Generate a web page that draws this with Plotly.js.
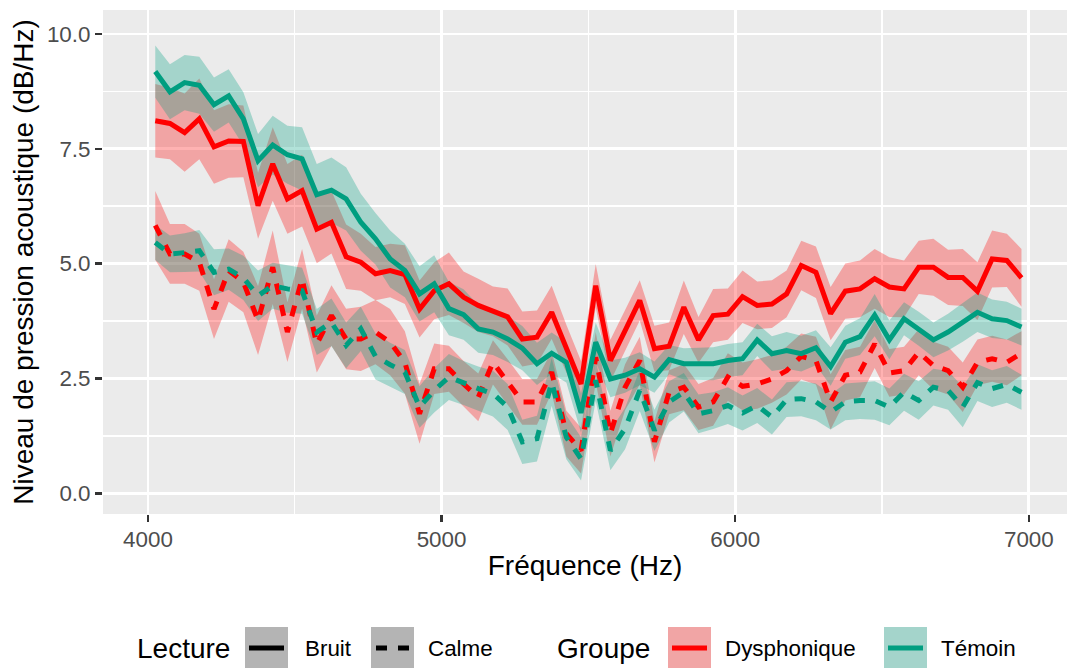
<!DOCTYPE html>
<html>
<head>
<meta charset="utf-8">
<script src="https://cdn.plot.ly/plotly-3.0.1.min.js"></script>
<style>html,body{margin:0;padding:0;background:#fff;}#chart{width:1067px;height:668px;}</style>
</head>
<body>
<div id="chart"></div>
<script>
// ---- data ----
const freq = [4025,4075,4125,4175,4225,4275,4325,4375,4425,4475,
              4525,4575,4625,4675,4725,4775,4825,4875,4925,4975,
              5025,5075,5125,5175,5225,5275,5325,5375,5425,5475,
              5525,5575,5625,5675,5725,5775,5825,5875,5925,5975,
              6025,6075,6125,6175,6225,6275,6325,6375,6425,6475,
              6525,6575,6625,6675,6725,6775,6825,6875,6925,6975];

// Dysphonique / Bruit (mean and half-width of ribbon)
const dysBruit = [8.11,8.05,7.85,8.15,7.54,7.67,7.66,6.26,7.17,6.41,
                  6.59,5.75,5.90,5.15,5.03,4.78,4.85,4.76,4.01,4.41,
                  4.56,4.27,4.09,3.96,3.84,3.36,3.40,3.94,3.15,2.38,
                  4.52,2.89,3.54,4.20,3.15,3.20,4.05,3.34,3.87,3.90,
                  4.28,4.09,4.12,4.34,4.96,4.81,3.91,4.40,4.45,4.67,
                  4.49,4.45,4.92,4.92,4.70,4.70,4.40,5.10,5.07,4.69];
const dysBruitSe = [0.80,0.78,0.85,0.88,0.80,0.80,0.78,0.72,0.80,0.76,
                    0.78,0.74,0.68,0.70,0.62,0.58,0.58,0.64,0.62,0.62,
                    0.68,0.56,0.58,0.54,0.62,0.60,0.58,0.58,0.52,0.50,
                    0.47,0.45,0.45,0.44,0.50,0.52,0.58,0.50,0.58,0.56,
                    0.57,0.52,0.52,0.51,0.54,0.56,0.58,0.60,0.62,0.65,
                    0.65,0.62,0.58,0.62,0.60,0.62,0.63,0.62,0.58,0.63];

// Dysphonique / Calme
const dysCalme = [5.83,5.21,5.21,5.03,4.01,4.85,4.60,3.76,4.92,3.51,
                  4.67,3.25,3.87,3.36,3.36,3.51,3.29,2.85,1.73,2.71,
                  2.71,2.38,2.09,2.85,2.42,1.99,1.99,2.64,1.30,0.93,
                  2.96,1.30,2.31,2.89,1.12,2.20,2.31,1.88,1.99,2.53,
                  2.33,2.38,2.49,2.67,2.98,2.89,1.99,2.57,2.64,3.25,
                  2.62,2.67,3.07,2.78,2.67,2.31,2.85,2.93,2.85,3.05];
const dysCalmeSe = [0.75,0.65,0.65,0.62,0.65,0.68,0.66,0.75,0.80,0.65,
                    0.65,0.62,0.66,0.66,0.70,0.70,0.72,0.68,0.65,0.55,
                    0.50,0.50,0.52,0.48,0.50,0.50,0.50,0.45,0.50,0.50,
                    0.55,0.50,0.50,0.52,0.45,0.48,0.50,0.50,0.52,0.52,
                    0.52,0.54,0.52,0.52,0.50,0.52,0.60,0.55,0.55,0.52,
                    0.52,0.52,0.50,0.52,0.52,0.54,0.50,0.50,0.50,0.48];

// Témoin / Bruit
const temBruit = [9.18,8.74,8.94,8.88,8.46,8.65,8.15,7.24,7.58,7.37,
                  7.28,6.50,6.60,6.41,5.90,5.54,5.10,4.85,4.34,4.56,
                  4.02,3.89,3.58,3.51,3.36,3.16,2.82,3.05,2.85,1.75,
                  3.29,2.49,2.57,2.71,2.53,2.91,2.82,2.82,2.82,2.89,
                  2.93,3.34,3.04,3.11,3.04,3.17,2.76,3.29,3.41,3.88,
                  3.34,3.80,3.58,3.34,3.51,3.72,3.94,3.80,3.76,3.62];
const temBruitSe = [0.57,0.60,0.60,0.62,0.59,0.58,0.58,0.58,0.64,0.63,
                    0.69,0.67,0.71,0.69,0.62,0.56,0.62,0.58,0.60,0.62,
                    0.58,0.55,0.52,0.50,0.50,0.48,0.46,0.45,0.44,0.43,
                    0.43,0.40,0.38,0.36,0.34,0.32,0.34,0.35,0.36,0.36,
                    0.36,0.35,0.38,0.40,0.39,0.38,0.42,0.36,0.40,0.46,
                    0.42,0.36,0.37,0.38,0.40,0.42,0.43,0.42,0.41,0.40];

// Témoin / Calme
const temCalme = [5.46,5.21,5.24,5.28,4.81,4.88,4.69,4.30,4.52,4.45,
                  4.41,3.51,3.72,3.22,3.58,2.98,2.80,2.64,1.88,2.24,
                  2.53,2.40,2.28,2.17,1.88,1.12,1.19,2.42,1.22,0.75,
                  2.46,0.93,1.41,2.24,1.37,1.99,2.20,1.73,1.80,1.91,
                  1.75,1.91,1.66,2.04,2.06,1.99,1.77,1.99,2.02,2.02,
                  1.88,2.20,2.02,2.31,2.24,1.88,2.41,2.28,2.37,2.20];
const temCalmeSe = [0.38,0.40,0.42,0.45,0.50,0.45,0.48,0.55,0.50,0.52,
                    0.50,0.50,0.52,0.50,0.48,0.50,0.48,0.48,0.45,0.48,
                    0.50,0.48,0.48,0.50,0.50,0.48,0.50,0.52,0.48,0.47,
                    0.45,0.43,0.45,0.45,0.45,0.45,0.42,0.42,0.40,0.40,
                    0.38,0.38,0.38,0.38,0.38,0.40,0.38,0.40,0.40,0.42,
                    0.40,0.40,0.42,0.40,0.42,0.44,0.40,0.40,0.40,0.38];

const groupes = ["Dysphonique", "Témoin"];
const lectures = ["Bruit", "Calme"];
const xTicks = [4000, 5000, 6000, 7000];
const xTickText = ["4000", "5000", "6000", "7000"];
const yTicks = [0, 2.5, 5, 7.5, 10];
const yTickText = ["0.0", "2.5", "5.0", "7.5", "10.0"];

// ---- styling ----
const FONT = "Liberation Sans, Arial, Helvetica, sans-serif";
const colors = {"Dysphonique": "#FF0000", "Témoin": "#009E80"};
const fills = {"Dysphonique": "rgba(255,0,0,0.3)", "Témoin": "rgba(0,158,128,0.3)"};
const dashes = {"Bruit": "solid", "Calme": "11px,11px"};

const series = [
  {g: "Dysphonique", l: "Bruit", y: dysBruit, se: dysBruitSe},
  {g: "Dysphonique", l: "Calme", y: dysCalme, se: dysCalmeSe},
  {g: "Témoin", l: "Bruit", y: temBruit, se: temBruitSe},
  {g: "Témoin", l: "Calme", y: temCalme, se: temCalmeSe}
];

const traces = [];
// ribbons first
series.forEach(s => {
  const up = s.y.map((v, i) => v + s.se[i]);
  const lo = s.y.map((v, i) => v - s.se[i]);
  traces.push({
    type: "scatter", mode: "lines",
    x: freq.concat(freq.slice().reverse()),
    y: up.concat(lo.slice().reverse()),
    fill: "toself", fillcolor: fills[s.g],
    line: {width: 0, color: "rgba(0,0,0,0)"},
    hoverinfo: "skip", showlegend: false
  });
});
// lines
series.forEach(s => {
  traces.push({
    type: "scatter", mode: "lines",
    x: freq, y: s.y,
    name: s.g + " – " + s.l,
    line: {color: colors[s.g], width: 5, dash: dashes[s.l]},
    showlegend: false
  });
});

// ---- layout ----
const M = {l: 103, r: 0, t: 10, b: 154};
const W = 1067, H = 668;
const PW = W - M.l - M.r, PH = H - M.t - M.b;
const X = px => (px - M.l) / PW;
const Y = py => (H - M.b - py) / PH;

const shapes = [];
const annotations = [];
const legendY = 648;
function keyBox(x0, fill) {
  shapes.push({type: "rect", xref: "paper", yref: "paper",
    x0: X(x0), x1: X(x0 + 43), y0: Y(legendY + 22), y1: Y(legendY - 21),
    fillcolor: fill, line: {width: 0}, layer: "above"});
}
function keyLine(x0, x1, color, dash) {
  shapes.push({type: "line", xref: "paper", yref: "paper",
    x0: X(x0), x1: X(x1), y0: Y(legendY), y1: Y(legendY),
    line: {color: color, width: 5, dash: dash}, layer: "above"});
}
function label(px, text, size) {
  annotations.push({xref: "paper", yref: "paper", x: X(px), y: Y(legendY),
    xanchor: "left", yanchor: "middle", showarrow: false, text: text,
    font: {family: FONT, size: size, color: "#000000"}});
}
// Lecture legend
label(135, "Lecture", 28);
keyBox(245, "#B4B4B4"); keyLine(249, 284, "#000000", "solid"); label(303, lectures[0], 22.4);
keyBox(371, "#B4B4B4"); keyLine(376, 410, "#000000", "11px,11px"); label(426, lectures[1], 22.4);
// Groupe legend
label(555, "Groupe", 28);
keyBox(668, "rgb(241,165,165)"); keyLine(672, 707, colors["Dysphonique"], "solid"); label(723, groupes[0], 22.4);
keyBox(884, "rgb(164,212,203)"); keyLine(888, 923, colors["Témoin"], "solid"); label(939, groupes[1], 22.4);

const layout = {
  width: W, height: H,
  margin: M,
  paper_bgcolor: "#FFFFFF",
  plot_bgcolor: "#EBEBEB",
  showlegend: false,
  font: {family: FONT},
  xaxis: {
    range: [3847, 7130],
    tickmode: "array", tickvals: xTicks, ticktext: xTickText,
    ticks: "outside", ticklen: 7, tickwidth: 2.4, tickcolor: "#333333",
    tickfont: {family: FONT, size: 22.4, color: "#4D4D4D"},
    ticklabelstandoff: -2,
    showgrid: true, gridcolor: "#FFFFFF", gridwidth: 2.7,
    minor: {tickvals: [4500, 5500, 6500], showgrid: true, gridcolor: "#FFFFFF", gridwidth: 1.4, ticks: ""},
    zeroline: false, showline: false,
    title: {text: "Fréquence (Hz)", font: {family: FONT, size: 28, color: "#000000"}, standoff: 4}
  },
  yaxis: {
    range: [-0.45, 10.52],
    tickmode: "array", tickvals: yTicks, ticktext: yTickText,
    ticks: "outside", ticklen: 7, tickwidth: 2.4, tickcolor: "#333333",
    tickfont: {family: FONT, size: 22.4, color: "#4D4D4D"},
    showgrid: true, gridcolor: "#FFFFFF", gridwidth: 2.7,
    minor: {tickvals: [1.25, 3.75, 6.25, 8.75], showgrid: true, gridcolor: "#FFFFFF", gridwidth: 1.4, ticks: ""},
    zeroline: false, showline: false,
    title: {text: "Niveau de pression acoustique (dB/Hz)", font: {family: FONT, size: 28, color: "#000000"}, standoff: 5}
  },
  shapes: shapes,
  annotations: annotations
};

Plotly.newPlot("chart", traces, layout, {displayModeBar: false, staticPlot: true});
</script>
</body>
</html>
